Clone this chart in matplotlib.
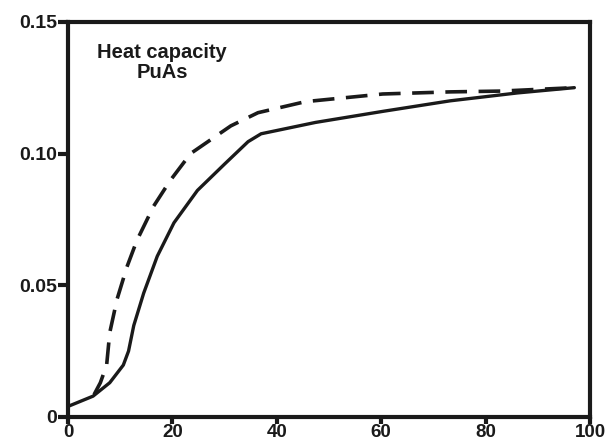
import matplotlib
matplotlib.use("Agg")
import matplotlib.pyplot as plt

# solid curve (PuAs heat capacity, measured)
solid_x = [0, 4.8, 8, 10.6, 11.6, 12.6, 14.5, 17.1, 20.3, 24.8, 30, 34.5, 37,
           47.4, 60.3, 73.2, 86.1, 97]
solid_y = [0.004, 0.0079, 0.013, 0.0197, 0.025, 0.0347, 0.047, 0.061, 0.0737,
           0.086, 0.096, 0.1045, 0.1075, 0.1118, 0.116, 0.120, 0.123, 0.125]

# dashed curve
dash_x = [5.0, 6.2, 7.4, 8.0, 9.4, 11.3, 13.2, 16.4, 19.6, 23.5, 31.2, 36.4,
          45.5, 60.3, 73.2, 82.9, 97]
dash_y = [0.0085, 0.013, 0.0196, 0.032, 0.0447, 0.057, 0.067, 0.080, 0.0898,
          0.100, 0.1105, 0.1155, 0.1197, 0.1226, 0.1234, 0.1237, 0.125]

x_ticks = [0, 20, 40, 60, 80, 100]
y_ticks = [0, 0.05, 0.10, 0.15]
y_labels = ["0", "0.05", "0.10", "0.15"]

ink = "#1a1a1a"
plt.rcParams["font.family"] = ["Liberation Sans", "DejaVu Sans"]
plt.rcParams["font.weight"] = "bold"

fig = plt.figure(figsize=(6.07, 4.45), dpi=100)
ax = fig.add_axes([0.112, 0.063, 0.860, 0.888])

ax.plot(solid_x, solid_y, color=ink, lw=2.4, solid_capstyle="round")
ax.plot(dash_x, dash_y, color=ink, lw=2.6, dashes=(6, 3.2))

ax.set_xlim(0, 100)
ax.set_ylim(0, 0.15)
ax.set_xticks(x_ticks)
ax.set_xticklabels([str(t) for t in x_ticks])
ax.set_yticks(y_ticks)
ax.set_yticklabels(y_labels)

for s in ax.spines.values():
    s.set_linewidth(3)
    s.set_color(ink)

ax.tick_params(direction="out", width=3, color=ink, labelcolor=ink)
ax.tick_params(axis="y", length=7, labelsize=14, pad=1)
ax.tick_params(axis="x", length=5, labelsize=13.5, pad=0)
for lab in ax.get_xticklabels() + ax.get_yticklabels():
    lab.set_fontweight("bold")

ax.text(18, 0.1345, "Heat capacity\nPuAs", ha="center", va="center",
        fontsize=14.5, fontweight="bold", color=ink, linespacing=1.05)

fig.savefig("out.png", dpi=100)
